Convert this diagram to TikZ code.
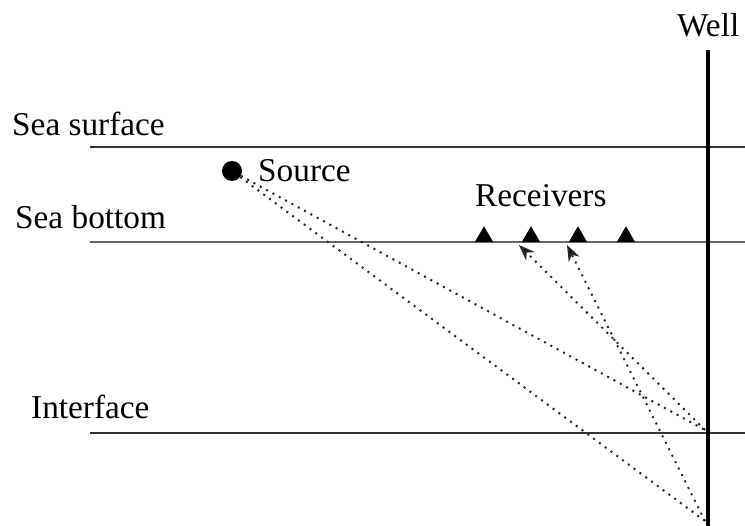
\documentclass[tikz,border=0pt]{standalone}
\usepackage{fontspec}
\setmainfont{Liberation Serif}
\usetikzlibrary{shapes.geometric,arrows.meta}
\begin{document}
\begin{tikzpicture}[x=1pt,y=-1pt,
  lbl/.style={anchor=base west,inner sep=0pt,font=\fontsize{33.3}{38}\selectfont},
  layer/.style={draw=black!80,line width=1.4pt},
  ray/.style={line width=2pt,dash pattern=on 2pt off 5.2pt,line cap=butt,draw=black!85},
  rcv/.style={regular polygon,regular polygon sides=3,fill=black,inner sep=0pt,minimum size=21pt},
  tipstyle/.style={-{Stealth[length=16pt,width=12pt,fill=black]}}]
\useasboundingbox (0,0) rectangle (745,526);
% labels
\node[lbl] (well) at (677,37) {Well};
\node[lbl] (ssurf) at (12,136) {Sea surface};
\node[lbl] (sbot) at (15,229) {Sea bottom};
\node[lbl] (intf) at (31,419) {Interface};
\node[lbl] (rlab) at (475,207) {Receivers};
\node[lbl] (slab) at (258,182) {Source};
% horizontal lines
\coordinate (s1) at (90,147); \coordinate (s2) at (745,147);
\coordinate (b1) at (90,242); \coordinate (b2) at (745,242);
\coordinate (i1) at (90,433); \coordinate (i2) at (745,433);
\draw[layer] (s1) -- (s2);
\draw[layer,draw=black!60,line width=1.8pt] (b1) -- (b2);
\draw[layer] (i1) -- (i2);
% well
\coordinate (wt) at (708,50); \coordinate (wb) at (708,526);
\draw[line width=3.5pt] (wt) -- (wb);
% source
\node[circle,fill=black,inner sep=0pt,minimum size=20pt] (src) at (232,171) {};
% receivers
\node[rcv] (r1) at (484,236.7) {};
\node[rcv] (r2) at (531,236.7) {};
\node[rcv] (r3) at (578,236.7) {};
\node[rcv] (r4) at (626,236.7) {};
% well points
\coordinate (w1) at (705,430);
\coordinate (w2) at (705,521);
\coordinate (a2) at (519,245);
\coordinate (a3) at (567,245);
% rays
\draw[ray] (src) -- (w1);
\draw[ray] (src) -- (w2);
\draw[ray,tipstyle] (w1) -- (a2);
\draw[ray,tipstyle] (w2) -- (a3);
\end{tikzpicture}
\end{document}
